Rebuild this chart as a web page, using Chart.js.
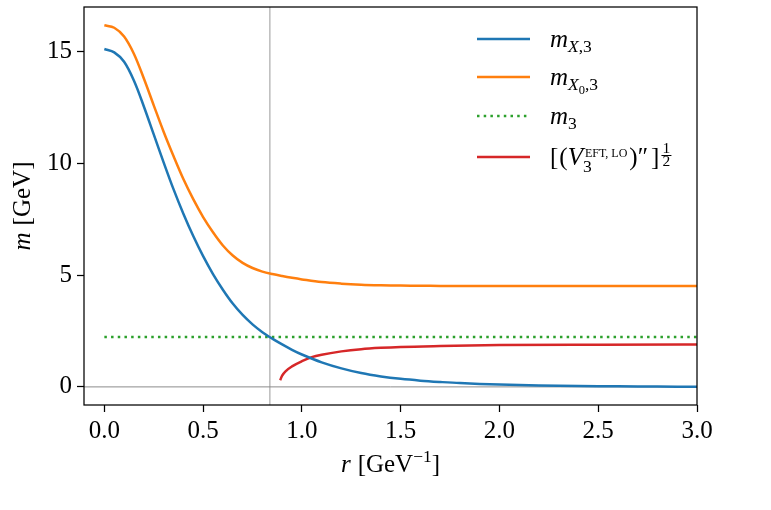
<!DOCTYPE html>
<html>
<head>
<meta charset="utf-8">
<script src="https://cdn.jsdelivr.net/npm/chart.js@4.4.1/dist/chart.umd.min.js"></script>
<style>
  html, body { margin: 0; padding: 0; background: #fff; }
  #wrap { width: 771px; height: 510px; }
</style>
</head>
<body>
<div id="wrap"><canvas id="chart" width="771" height="510"></canvas></div>
<script>
'use strict';

// r grid shared by the two upper curves [GeV^-1]
const rGrid = [0, 0.05, 0.1, 0.15, 0.2, 0.25, 0.3, 0.35, 0.4, 0.45, 0.5, 0.55, 0.6, 0.65, 0.7, 0.75, 0.8, 0.85, 0.9, 0.95, 1.0,
    1.1, 1.2, 1.3, 1.4, 1.5, 1.6, 1.7, 1.8, 2.0, 2.2, 2.4, 2.6, 2.8, 3.0];
// m_{X,3}
const mX3 = [15.12, 14.97, 14.55, 13.7, 12.55, 11.3, 10.05, 8.85, 7.75, 6.75, 5.85, 5.05, 4.35, 3.73, 3.22, 2.8, 2.45, 2.16, 1.9, 1.66, 1.45,
    1.1, 0.83, 0.62, 0.47, 0.36, 0.28, 0.22, 0.17, 0.105, 0.065, 0.04, 0.025, 0.015, 0.01];
// m_{X0,3}
const mX03 = [16.18, 16.07, 15.68, 14.9, 13.8, 12.6, 11.42, 10.33, 9.3, 8.4, 7.6, 6.92, 6.33, 5.88, 5.55, 5.32, 5.16, 5.05, 4.96, 4.88, 4.81,
    4.69, 4.62, 4.575, 4.55, 4.535, 4.525, 4.52, 4.52, 4.52, 4.52, 4.52, 4.52, 4.52, 4.52];
// m_3 (constant)
const rM3 = [0, 3.0];
const m3 = [2.23, 2.23];
// [(V_3^{EFT,LO})'']^{1/2}
const rV = [0.89, 0.9, 0.92, 0.95, 1.0, 1.05, 1.1, 1.2, 1.3, 1.4, 1.5, 1.7, 2.0, 2.5, 3.0];
const mV = [0.3, 0.5, 0.72, 0.92, 1.15, 1.33, 1.44, 1.59, 1.69, 1.75, 1.79, 1.83, 1.87, 1.89, 1.9];

// reference lines and axis ranges
const rMark = 0.838;
const xRange = [-0.103, 3.0];
const yRange = [-0.81, 17.0];
const xTicks = [0, 0.5, 1.0, 1.5, 2.0, 2.5, 3.0];
const yTicks = [0, 5, 10, 15];

const colors = ['#1f77b4', '#ff7f0e', '#2ca02c', '#d62728'];
const FONT = '"Liberation Serif", "Times New Roman", serif';
const FS = 25;

function pts(xs, ys) {
    return xs.map((x, i) => ({x: x, y: ys[i]}));
}

function curve(data, color, extra) {
    return Object.assign({
        data: data,
        borderColor: color,
        borderWidth: 2.5,
        pointRadius: 0,
        fill: false,
        cubicInterpolationMode: 'monotone'
    }, extra || {});
}

// draw a run of text pieces, each with its own size / style / shift
function runs(ctx, x, y, list) {
    for (let p of list) {
        let size = FS * (p.s || 1);
        ctx.font = (p.i ? 'italic ' : '') + size + 'px ' + FONT;
        ctx.fillText(p.t, x + (p.dx || 0), y + (p.dy || 0));
        if (!p.nomove) x += ctx.measureText(p.t).width + (p.dx || 0) + (p.k || 0);
    }
    return x;
}

function runWidth(ctx, list) {
    let w = 0;
    for (let p of list) {
        ctx.font = (p.i ? 'italic ' : '') + (FS * (p.s || 1)) + 'px ' + FONT;
        w += ctx.measureText(p.t).width + (p.k || 0);
    }
    return w;
}

const framePlugin = {
    id: 'frame',
    afterDraw(chart) {
        let ctx = chart.ctx, a = chart.chartArea;
        ctx.save();
        ctx.strokeStyle = '#000';
        ctx.lineWidth = 1.25;
        ctx.strokeRect(a.left, a.top, a.right - a.left, a.bottom - a.top);

        ctx.fillStyle = '#000';
        ctx.textBaseline = 'alphabetic';
        ctx.textAlign = 'left';

        // x axis title: r [GeV^-1]
        let xt = [{t: 'r', i: 1, k: 7}, {t: '[GeV'}, {t: '\u22121', s: 0.7, dy: -10}, {t: ']'}];
        runs(ctx, (a.left + a.right) / 2 - runWidth(ctx, xt) / 2, 472, xt);

        // y axis title: m [GeV]
        ctx.save();
        ctx.translate(30, (a.top + a.bottom) / 2);
        ctx.rotate(-Math.PI / 2);
        let yt = [{t: 'm', i: 1, k: 7}, {t: '[GeV]'}];
        runs(ctx, -runWidth(ctx, yt) / 2, 0, yt);
        ctx.restore();

        // legend
        let lx0 = 477, lx1 = 530, tx = 550;
        let rowsY = [39, 77, 116, 157];
        let dashes = [[], [], [2.5, 4.2], []];
        for (let i = 0; i < 4; i++) {
            ctx.beginPath();
            ctx.setLineDash(dashes[i]);
            ctx.lineCap = 'butt';
            ctx.strokeStyle = colors[i];
            ctx.lineWidth = 2.5;
            ctx.moveTo(lx0, rowsY[i]);
            ctx.lineTo(lx1, rowsY[i]);
            ctx.stroke();
        }
        ctx.setLineDash([]);
        runs(ctx, tx, rowsY[0] + 8, [{t: 'm', i: 1}, {t: 'X', i: 1, s: 0.7, dy: 5}, {t: ',3', s: 0.7, dy: 5}]);
        runs(ctx, tx, rowsY[1] + 8, [{t: 'm', i: 1}, {t: 'X', i: 1, s: 0.7, dy: 5}, {t: '0', s: 0.5, dy: 9}, {t: ',3', s: 0.7, dy: 5}]);
        runs(ctx, tx, rowsY[2] + 8, [{t: 'm', i: 1}, {t: '3', s: 0.7, dy: 5}]);
        let by = rowsY[3] + 8;
        let x = runs(ctx, tx, by, [{t: '[', k: 1}, {t: '('}, {t: 'V', i: 1, k: 0}]);
        runs(ctx, x, by, [{t: '3', s: 0.7, dy: 7, nomove: true}]);
        x = runs(ctx, x + 2, by, [{t: 'EFT, LO', s: 0.48, dy: -8, k: 2}]);
        x = runs(ctx, x, by, [{t: ')'}, {t: '\u2033', k: 3}, {t: ']', k: 2}]);
        ctx.font = (FS * 0.62) + 'px ' + FONT;
        ctx.fillText('1', x + 1, by - 12);
        ctx.fillText('2', x + 1, by + 1);
        ctx.fillRect(x, by - 10, 10, 1);
        ctx.restore();
    }
};

const smooth = {cubicInterpolationMode: 'default', tension: 0.35};

const ctx = document.getElementById('chart');
const chart = new Chart(ctx, {
    type: 'line',
    data: {
        datasets: [
            curve(pts(rGrid, mX3), colors[0], smooth),
            curve(pts(rGrid, mX03), colors[1], smooth),
            curve(pts(rM3, m3), colors[2], {borderDash: [2.5, 4.2], cubicInterpolationMode: 'default', tension: 0}),
            curve(pts(rV, mV), colors[3]),
            {data: pts(xRange, [0, 0]), borderColor: '#8c8c8c', borderWidth: 1, pointRadius: 0},
            {data: pts([rMark, rMark], yRange), borderColor: '#9a9a9a', borderWidth: 1, pointRadius: 0}
        ]
    },
    options: {
        responsive: false,
        animation: false,
        events: [],
        layout: {padding: {left: 0, right: 74, top: 7, bottom: 0}},
        plugins: {legend: {display: false}, tooltip: {enabled: false}},
        scales: {
            x: {
                type: 'linear',
                min: xRange[0],
                max: xRange[1],
                afterBuildTicks: s => { s.ticks = xTicks.map(v => ({value: v})); },
                afterFit: s => { s.height = 105; s.paddingLeft = 0; s.paddingRight = 0; },
                grid: {drawOnChartArea: false, drawTicks: true, tickLength: 7, color: '#000', tickWidth: 1.25},
                border: {display: false},
                ticks: {
                    color: '#000',
                    padding: 4,
                    maxRotation: 0,
                    font: {family: FONT, size: FS},
                    callback: v => v.toFixed(1)
                }
            },
            y: {
                type: 'linear',
                min: yRange[0],
                max: yRange[1],
                afterBuildTicks: s => { s.ticks = yTicks.map(v => ({value: v})); },
                afterFit: s => { s.width = 84; s.paddingTop = 0; s.paddingBottom = 0; },
                grid: {drawOnChartArea: false, drawTicks: true, tickLength: 7, color: '#000', tickWidth: 1.25},
                border: {display: false},
                ticks: {
                    color: '#000',
                    padding: 5,
                    font: {family: FONT, size: FS},
                    callback: v => String(v)
                }
            }
        }
    },
    plugins: [framePlugin]
});
</script>
</body>
</html>
